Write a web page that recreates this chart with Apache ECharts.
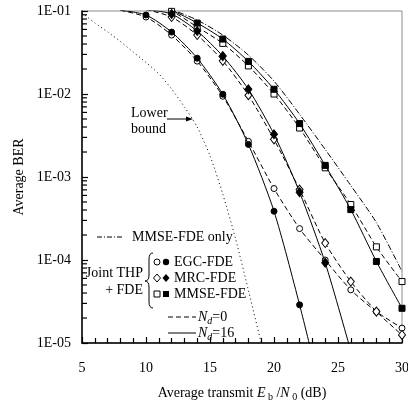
<!DOCTYPE html>
<html>
<head>
<meta charset="utf-8">
<script src="https://cdn.jsdelivr.net/npm/echarts@6/dist/echarts.min.js"></script>
<style>
  html, body { margin: 0; padding: 0; background: #fff; }
  #chart { width: 408px; height: 405px; }
</style>
</head>
<body>
<div id="chart"></div>
<script>
// average transmit Eb/N0 (dB) and BER
var snrLB = [5, 6, 7, 8, 9, 10, 11, 12, 13, 14, 15, 16, 17, 18, 19];
var lowerBound = [0.095, 0.072, 0.056, 0.043, 0.032, 0.024, 0.0175, 0.0115, 0.0070, 0.0040, 0.0018, 6.2e-4, 1.8e-4, 4.3e-5, 1.0e-5];

var snrEGC16 = [8, 10, 12, 14, 16, 18, 20, 22, 24];
var egc16 = [0.102, 0.0895, 0.0557, 0.0270, 0.00993, 0.00247, 3.87e-4, 2.88e-5, 1.6e-6];
var snrEGC0 = [8, 10, 12, 14, 16, 18, 20, 22, 24, 26, 28, 30];
var egc0 = [0.102, 0.0846, 0.0513, 0.0249, 0.0094, 0.00269, 7.26e-4, 2.39e-4, 1.0e-4, 4.37e-5, 2.39e-5, 1.51e-5];

var snrMRC16 = [10, 12, 14, 16, 18, 20, 22, 24, 26];
var mrc16 = [0.104, 0.092, 0.0573, 0.0286, 0.0114, 0.00327, 6.55e-4, 9.27e-5, 8.0e-6];
var snrMRC0 = [10, 12, 14, 16, 18, 20, 22, 24, 26, 28, 30];
var mrc0 = [0.104, 0.0846, 0.0513, 0.0251, 0.00966, 0.00284, 7.06e-4, 1.6e-4, 5.5e-5, 2.39e-5, 1.25e-5];

var snrMMSE = [10, 12, 14, 16, 18, 20, 22, 24, 26, 28, 30];
var mmse16 = [0.115, 0.101, 0.0716, 0.0459, 0.0247, 0.0114, 0.0044, 0.00138, 4.05e-4, 9.6e-5, 2.62e-5];
var mmse0 = [0.115, 0.099, 0.0641, 0.0407, 0.0218, 0.0100, 0.00389, 0.00129, 4.66e-4, 1.44e-4, 5.5e-5];
var mmseOnly = [0.12, 0.103, 0.0778, 0.0513, 0.0294, 0.0143, 0.00569, 0.00215, 7.89e-4, 2.82e-4, 7.28e-5];

var yTicks = ['1E-05', '1E-04', '1E-03', '1E-02', '1E-01'];
var yDecades = [1e-5, 1e-4, 1e-3, 1e-2];
var yMantissas = [2, 3, 4, 5, 6, 7, 8, 9];

var FONT = 'Liberation Serif';

function pairs(xs, ys) {
  return xs.map(function (x, i) { return [x, ys[i]]; });
}

function curve(name, xs, ys, dash, symbol, filled, size) {
  return {
    name: name,
    type: 'line',
    data: pairs(xs, ys),
    smooth: 0.25,
    clip: true,
    symbol: symbol || 'none',
    showSymbol: !!symbol,
    symbolSize: size || 6,
    lineStyle: { color: '#000', width: 1, type: dash },
    itemStyle: {
      color: filled ? '#000' : '#fff',
      borderColor: '#000',
      borderWidth: 1,
      opacity: 1
    },
    z: filled ? 4 : 3,
    animation: false
  };
}

// minor ticks of the log axis (2..9 x 10^k), placed through the y scale
var minorTickData = [];
yDecades.forEach(function (d) {
  yMantissas.forEach(function (m) { minorTickData.push([5, m * d]); });
});

var chart = echarts.init(document.getElementById('chart'));

var brace = { stroke: '#000', lineWidth: 1, fill: 'none' };
var nrich = {
  i: { fontFamily: FONT, fontSize: 14, fontStyle: 'italic', lineHeight: 18 },
  r: { fontFamily: FONT, fontSize: 14, lineHeight: 18 },
  s: { fontFamily: FONT, fontSize: 10, fontStyle: 'italic', verticalAlign: 'bottom', lineHeight: 10 }
};

var legend = [
  { type: 'line', shape: { x1: 97, y1: 237, x2: 124, y2: 237 }, style: { stroke: '#000', lineWidth: 1, lineDash: [5, 2, 1, 2] } },
  { type: 'text', style: { x: 132, y: 237, text: 'MMSE-FDE only', font: '14px ' + FONT, fill: '#000', verticalAlign: 'middle' } },
  { type: 'text', style: { x: 143, y: 273, text: 'Joint THP', font: '14px ' + FONT, fill: '#000', align: 'right', verticalAlign: 'middle' } },
  { type: 'text', style: { x: 143, y: 290, text: '+ FDE', font: '14px ' + FONT, fill: '#000', align: 'right', verticalAlign: 'middle' } },
  // curly brace
  { type: 'bezierCurve', shape: { x1: 153, y1: 253, x2: 149, y2: 259, cpx1: 149, cpy1: 253 }, style: brace },
  { type: 'line', shape: { x1: 149, y1: 259, x2: 149, y2: 275 }, style: brace },
  { type: 'bezierCurve', shape: { x1: 149, y1: 275, x2: 145, y2: 281, cpx1: 149, cpy1: 281 }, style: brace },
  { type: 'bezierCurve', shape: { x1: 145, y1: 281, x2: 149, y2: 287, cpx1: 149, cpy1: 281 }, style: brace },
  { type: 'line', shape: { x1: 149, y1: 287, x2: 149, y2: 302 }, style: brace },
  { type: 'bezierCurve', shape: { x1: 149, y1: 302, x2: 153, y2: 308, cpx1: 149, cpy1: 308 }, style: brace },
  { type: 'circle', shape: { cx: 157, cy: 262, r: 3 }, style: { fill: '#fff', stroke: '#000', lineWidth: 1 } },
  { type: 'circle', shape: { cx: 166, cy: 262, r: 3.2 }, style: { fill: '#000' } },
  { type: 'polygon', shape: { points: [[157, 274], [160.5, 278], [157, 282], [153.5, 278]] }, style: { fill: '#fff', stroke: '#000', lineWidth: 1 } },
  { type: 'polygon', shape: { points: [[166, 274], [169.5, 278], [166, 282], [162.5, 278]] }, style: { fill: '#000' } },
  { type: 'rect', shape: { x: 154, y: 291, width: 6, height: 6 }, style: { fill: '#fff', stroke: '#000', lineWidth: 1 } },
  { type: 'rect', shape: { x: 163, y: 291, width: 6, height: 6 }, style: { fill: '#000' } },
  { type: 'text', style: { x: 174, y: 262, text: 'EGC-FDE', font: '14px ' + FONT, fill: '#000', verticalAlign: 'middle' } },
  { type: 'text', style: { x: 174, y: 278, text: 'MRC-FDE', font: '14px ' + FONT, fill: '#000', verticalAlign: 'middle' } },
  { type: 'text', style: { x: 174, y: 294, text: 'MMSE-FDE', font: '14px ' + FONT, fill: '#000', verticalAlign: 'middle' } },
  { type: 'line', shape: { x1: 168, y1: 317, x2: 196, y2: 317 }, style: { stroke: '#000', lineWidth: 1, lineDash: [5, 3] } },
  { type: 'line', shape: { x1: 168, y1: 333, x2: 196, y2: 333 }, style: { stroke: '#000', lineWidth: 1 } },
  { type: 'text', style: { x: 198, y: 317, text: '{i|N}{s|d}{r|=0}', verticalAlign: 'middle', fill: '#000', rich: nrich, font: '14px ' + FONT } },
  { type: 'text', style: { x: 198, y: 333, text: '{i|N}{s|d}{r|=16}', verticalAlign: 'middle', fill: '#000', rich: nrich, font: '14px ' + FONT } },
  // lower bound note
  { type: 'text', style: { x: 131, y: 113, text: 'Lower', font: '14px ' + FONT, fill: '#000', verticalAlign: 'middle' } },
  { type: 'text', style: { x: 131, y: 129, text: 'bound', font: '14px ' + FONT, fill: '#000', verticalAlign: 'middle' } },
  { type: 'line', shape: { x1: 167, y1: 119, x2: 188, y2: 119 }, style: { stroke: '#000', lineWidth: 1 } },
  { type: 'polygon', shape: { points: [[193, 119], [186, 116.5], [186, 121.5]] }, style: { fill: '#000' } }
];

chart.setOption({
  backgroundColor: '#fff',
  animation: false,
  textStyle: { fontFamily: FONT },
  grid: {
    left: 82, right: 6, top: 11, bottom: 62,
    show: true, borderColor: '#8c8c8c', borderWidth: 1,
    containLabel: false, outerBoundsMode: 'none'
  },
  xAxis: {
    type: 'value', min: 5, max: 30, interval: 5,
    name: 'Average transmit {i|E}{s| b} /{i|N}{s| 0} (dB)',
    nameLocation: 'middle', nameGap: 41,
    nameTextStyle: {
      color: '#000', fontFamily: FONT, fontSize: 14,
      rich: {
        i: { fontFamily: FONT, fontSize: 14, fontStyle: 'italic', lineHeight: 18, color: '#000' },
        s: { fontFamily: FONT, fontSize: 10, verticalAlign: 'bottom', lineHeight: 10, color: '#000' }
      }
    },
    axisLine: { show: true, onZero: false, lineStyle: { color: '#000', width: 1.5 } },
    axisTick: { show: true, inside: true, length: 6, lineStyle: { color: '#000', width: 1.2 } },
    minorTick: { show: true, splitNumber: 5, length: 5, lineStyle: { color: '#000', width: 1.2 } },
    splitLine: { show: false },
    axisLabel: { color: '#000', fontFamily: FONT, fontSize: 14, margin: 18 }
  },
  yAxis: {
    type: 'log', logBase: 10, min: 1e-5, max: 0.1,
    name: 'Average BER', nameLocation: 'middle', nameGap: 54,
    nameTextStyle: { color: '#000', fontFamily: FONT, fontSize: 14 },
    axisLine: { show: true, lineStyle: { color: '#000', width: 1.5 } },
    axisTick: { show: true, inside: true, length: 6, lineStyle: { color: '#000', width: 1.2 } },
    splitLine: { show: false },
    axisLabel: {
      color: '#000', fontFamily: FONT, fontSize: 14, margin: 11,
      formatter: function (v) {
        var e = Math.round(Math.log(v) / Math.LN10);
        return yTicks[e + 5];
      }
    }
  },
  series: [
    {
      type: 'custom',
      silent: true,
      z: 6,
      data: minorTickData,
      renderItem: function (params, api) {
        var p = api.coord([api.value(0), api.value(1)]);
        return {
          type: 'line',
          shape: { x1: p[0], y1: p[1], x2: p[0] + 5, y2: p[1] },
          style: { stroke: '#000', lineWidth: 1.2 }
        };
      }
    },
    curve('Lower bound', snrLB, lowerBound, [1, 3], null),
    curve('MMSE-FDE only', snrMMSE, mmseOnly, [6, 2, 1, 2], null),
    curve('EGC Nd=0', snrEGC0, egc0, [5, 3], 'circle', false, 6),
    curve('MRC Nd=0', snrMRC0, mrc0, [5, 3], 'diamond', false, [7, 9]),
    curve('MMSE Nd=0', snrMMSE, mmse0, [5, 3], 'rect', false, 6),
    curve('EGC Nd=16', snrEGC16, egc16, 'solid', 'circle', true, 6),
    curve('MRC Nd=16', snrMRC16, mrc16, 'solid', 'diamond', true, [7, 9]),
    curve('MMSE Nd=16', snrMMSE, mmse16, 'solid', 'rect', true, 6)
  ],
  graphic: legend
});
</script>
</body>
</html>
